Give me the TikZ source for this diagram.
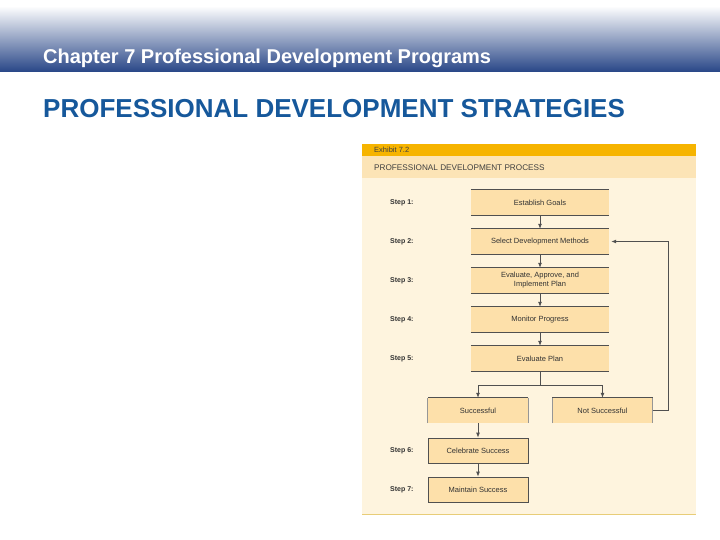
\documentclass[tikz,border=0pt]{standalone}
\usepackage{fontspec}
\setmainfont{Liberation Sans}
\usetikzlibrary{positioning, arrows.meta}
\definecolor{hdrblue}{RGB}{40, 70, 135}
\definecolor{hdrmid}{RGB}{170, 177, 200}
\definecolor{titleblue}{RGB}{22, 88, 155}
\definecolor{gold}{RGB}{246, 180, 0}
\definecolor{band}{RGB}{252, 228, 182}
\definecolor{cream}{RGB}{254, 244, 222}
\definecolor{boxfill}{RGB}{253, 224, 170}
\definecolor{rule}{RGB}{80, 80, 80}
\definecolor{footline}{RGB}{232, 205, 120}
\tikzset{
  stepbox/.style={fill=boxfill, minimum width=138, minimum height=25, inner sep=0,
    align=center, text=black!80, font=\fontsize{7.5}{9}\selectfont},
  outbox/.style={stepbox, minimum width=100},
  steplabel/.style={anchor=west, inner sep=0, text=black!80, font=\fontsize{7}{8}\selectfont\bfseries},
  flow/.style={->, >={Latex[length=5pt, width=4pt]}, rule, line width=0.8}
}

\begin{document}
\begin{tikzpicture}[x=1pt, y=-1pt]
      \useasboundingbox (0,0) rectangle (720,540);
      % slide header
      \shade[top color=white, middle color=hdrmid, bottom color=hdrblue] (0,6) rectangle (720,72);
      \node[anchor=base west, inner sep=0, text=white, font=\fontsize{20}{22}\selectfont\bfseries] (chap) at (43,64) {Chapter 7 Professional Development Programs};
      \node[anchor=base west, inner sep=0, text=titleblue, font=\fontsize{26}{28}\selectfont\bfseries] (head) at (43,118) {PROFESSIONAL DEVELOPMENT STRATEGIES};

      % exhibit panel
      \fill[cream] (362,144) rectangle (696,514);
      \fill[gold] (362,144) rectangle (696,156);
      \fill[band] (362,156) rectangle (696,178);
      \draw[footline, line width=1] (362,514.5) -- (696,514.5);
      \node[anchor=west, inner sep=0, text=black!75, font=\fontsize{7.5}{8}\selectfont] (exh) at (374,150) {Exhibit 7.2};
      \node[anchor=west, inner sep=0, text=black!75, font=\fontsize{8.2}{9}\selectfont] (proc) at (374,167.5) {PROFESSIONAL DEVELOPMENT PROCESS};

      \foreach \i/\y/\t in {1/202.5/Establish Goals, 2/241.5/Select Development Methods,
          3/280.5/{Evaluate, Approve, and\\Implement Plan}, 4/319.5/Monitor Progress, 5/358.5/Evaluate Plan} {
        \node[stepbox] (s\i) at (540,\y) {\t};
        \draw[rule, line width=0.8] (s\i.north west) -- (s\i.north east) (s\i.south west) -- (s\i.south east);
        \node[steplabel] (l\i) at (390,\y) {Step \i:};
      }
      \foreach \a/\b in {1/2, 2/3, 3/4, 4/5}
        \draw[flow] (s\a) -- (s\b);

      \node[outbox] (succ) at (478,410.5) {Successful};
      \node[outbox] (notsucc) at (602.5,410.5) {Not Successful};
      \node[outbox, draw=rule, line width=0.8] (cel) at (478,450.5) {Celebrate Success};
      \node[outbox, draw=rule, line width=0.8] (maint) at (478,489.5) {Maintain Success};
      \node[steplabel] (l6) at (390,450.5) {Step 6:};
      \node[steplabel] (l7) at (390,489.5) {Step 7:};
      \foreach \n in {succ, notsucc} {
        \draw[rule!60, line width=0.8] (\n.south west) -- (\n.north west) (\n.north east) -- (\n.south east);
        \draw[rule, line width=0.8] (\n.north west) -- (\n.north east);
      }

      \coordinate (split) at (540,385);
      \draw[rule, line width=0.8] (s5) -- (split);
      \draw[flow] (split) -| (succ);
      \draw[flow] (split) -| (notsucc);
      \draw[flow] (succ) -- (cel);
      \draw[flow] (cel) -- (maint);
      \draw[flow] (notsucc.east) -- ++(16,0) |- ([xshift=2]s2.east);
    \end{tikzpicture}
\end{document}
